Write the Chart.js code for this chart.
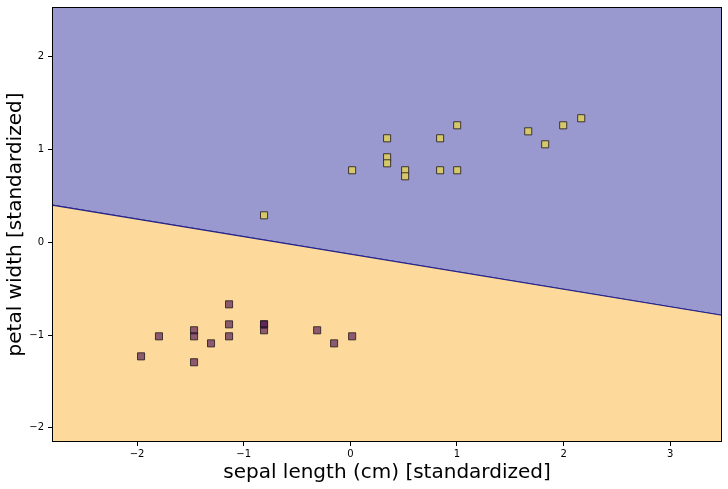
<!DOCTYPE html>
<html>
<head>
<meta charset="utf-8">
<script src="https://cdn.jsdelivr.net/npm/chart.js@4"></script>
<style>
  html, body { margin: 0; padding: 0; background: #fff; }
  #wrap { width: 728px; height: 489px; }
</style>
</head>
<body>
<div id="wrap"><canvas id="regions"></canvas></div>
<script>
// class 0 (lower region, purple squares)
const lowX = [-1.137, -1.137, -0.809, -0.809, -0.809, -1.465, -1.465, -1.794, -1.137, -1.306, -1.962, -1.465, -0.311, -0.152, 0.017];
const lowY = [-0.669, -0.885, -0.885, -0.885, -0.949, -0.949, -1.014, -1.014, -1.014, -1.090, -1.230, -1.294, -0.949, -1.090, -1.014];

// class 1 (upper region, yellow squares)
const highX = [-0.809, 0.017, 0.345, 0.345, 0.345, 0.514, 0.514, 0.842, 0.842, 1.002, 1.002, 1.668, 1.827, 1.996, 2.165];
const highY = [0.291, 0.777, 1.122, 0.917, 0.852, 0.777, 0.712, 1.122, 0.777, 1.262, 0.777, 1.197, 1.057, 1.262, 1.338];

// decision boundary, read at the left and right edge of the grid
const boundaryX = [-2.797, 3.485];
const boundaryY = [0.402, -0.787];

const xTicks = [-2, -1, 0, 1, 2, 3];
const yTicks = [-2, -1, 0, 1, 2];
const xRange = [-2.797, 3.485];
const yRange = [-2.154, 2.538];

const toPoints = (xs, ys) => xs.map((x, i) => ({ x: x, y: ys[i] }));
const minus = v => String(v).replace('-', '\u2212');

// black box round the plot area
const frame = {
    id: 'frame',
    afterDraw(chart) {
        const a = chart.chartArea;
        const ctx = chart.ctx;
        ctx.save();
        ctx.strokeStyle = '#000';
        ctx.lineWidth = 1;
        ctx.strokeRect(Math.round(a.left) + 0.5, Math.round(a.top) + 0.5,
            Math.round(a.right - a.left) - 1, Math.round(a.bottom - a.top) - 1);
        ctx.restore();
    }
};

const tickFont = { family: 'DejaVu Sans', size: 10 };
const titleFont = { family: 'DejaVu Sans', size: 20 };

new Chart(document.getElementById('regions'), {
    type: 'scatter',
    data: {
        datasets: [
            {
                type: 'line',
                label: 'region 1',
                data: toPoints(boundaryX, boundaryY),
                fill: 'end',
                backgroundColor: '#9999cf',
                borderColor: '#22228a',
                borderWidth: 1.2,
                pointRadius: 0,
                order: 3
            },
            {
                type: 'line',
                label: 'region 0',
                data: toPoints(boundaryX, boundaryY),
                fill: 'start',
                backgroundColor: '#fdd99b',
                borderColor: '#22228a',
                borderWidth: 1.2,
                pointRadius: 0,
                order: 2
            },
            {
                label: '0',
                data: toPoints(lowX, lowY),
                pointStyle: 'rect',
                pointRadius: 5,
                backgroundColor: 'rgba(65, 5, 80, 0.6)',
                borderColor: 'rgba(40, 30, 30, 0.85)',
                borderWidth: 1,
                order: 1
            },
            {
                label: '1',
                data: toPoints(highX, highY),
                pointStyle: 'rect',
                pointRadius: 5,
                backgroundColor: '#d4c86a',
                borderColor: 'rgba(40, 30, 30, 0.85)',
                borderWidth: 1,
                order: 1
            }
        ]
    },
    options: {
        responsive: true,
        maintainAspectRatio: false,
        animation: false,
        layout: { padding: { top: 7, right: 6, left: 0, bottom: 0 } },
        plugins: {
            legend: { display: false },
            tooltip: { enabled: false }
        },
        scales: {
            x: {
                type: 'linear',
                min: xRange[0],
                max: xRange[1],
                afterBuildTicks: scale => { scale.ticks = xTicks.map(v => ({ value: v })); },
                afterFit: scale => { scale.height = 47; scale.paddingLeft = 0; scale.paddingRight = 0; },
                grid: { display: true, drawOnChartArea: false, drawTicks: true, tickLength: 4, color: '#000' },
                border: { display: false },
                ticks: { font: tickFont, color: '#000', padding: 2, maxRotation: 0, callback: minus },
                title: { display: true, text: 'sepal length (cm) [standardized]', font: titleFont, color: '#000', padding: { top: 0, bottom: 4 } }
            },
            y: {
                type: 'linear',
                min: yRange[0],
                max: yRange[1],
                afterBuildTicks: scale => { scale.ticks = yTicks.map(v => ({ value: v })); },
                afterFit: scale => { scale.width = 52; scale.paddingTop = 0; scale.paddingBottom = 0; },
                grid: { display: true, drawOnChartArea: false, drawTicks: true, tickLength: 4, color: '#000' },
                border: { display: false },
                ticks: { font: tickFont, color: '#000', padding: 4, callback: minus },
                title: { display: true, text: 'petal width [standardized]', font: titleFont, color: '#000', padding: { top: 4, bottom: 0 } }
            }
        }
    },
    plugins: [frame]
});
</script>
</body>
</html>
